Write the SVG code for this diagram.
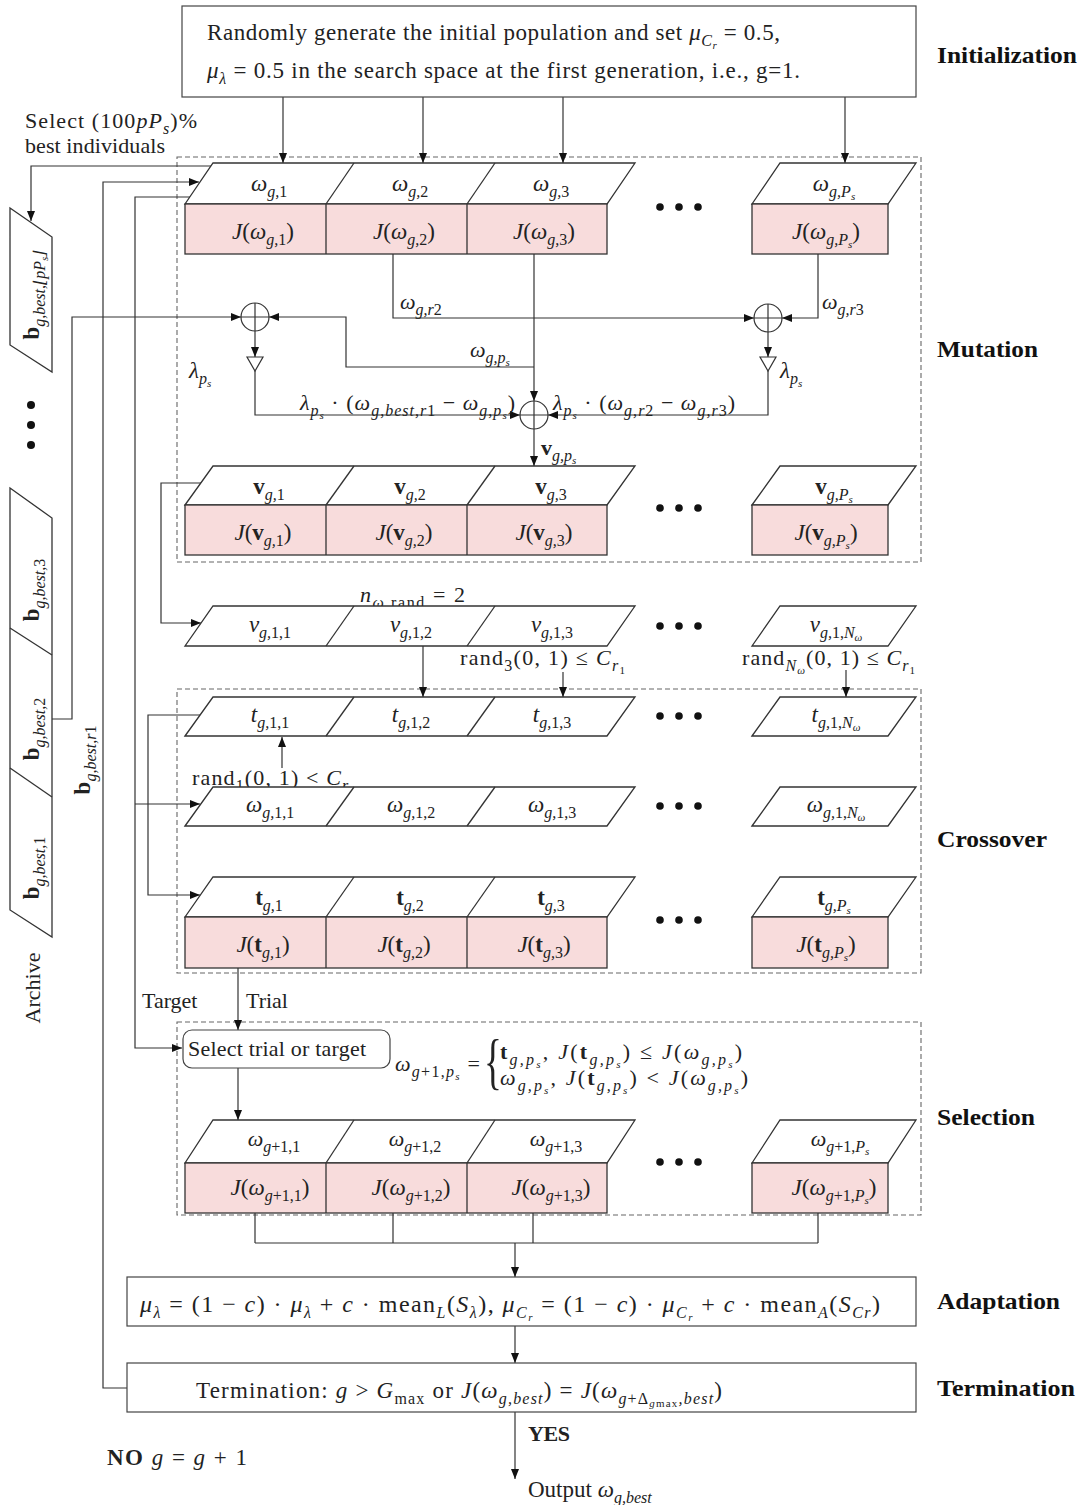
<svg xmlns="http://www.w3.org/2000/svg" width="1083" height="1505" viewBox="0 0 1083 1505">
<defs>
<marker id="ah" viewBox="0 0 10 8" refX="10" refY="4" markerWidth="11" markerHeight="8" markerUnits="userSpaceOnUse" orient="auto"><path d="M0,0 L10,4 L0,8 z" fill="#111"/></marker>
</defs>
<style>
.ln{fill:none;stroke:#333;stroke-width:1.2}
.cl{fill:none;stroke:#333;stroke-width:1.3}
.pk{fill:#f8dcdc;stroke:#333;stroke-width:1.3}
.pg{fill:#fff;stroke:#333;stroke-width:1.3}
.dsh{fill:none;stroke:#666;stroke-width:1.1;stroke-dasharray:5 3}
.bx{fill:#fff;stroke:#444;stroke-width:1.2}
.m{font-family:"Liberation Serif","DejaVu Serif",serif;font-size:23px;fill:#222}
.sm{font-size:22px}
.lg{font-size:24px}
.br{font-size:62px}
.i{font-style:italic}
.s{font-size:16px;font-style:italic}
.ss{font-size:11px;font-style:italic}
.n{font-style:normal}
.bd{font-weight:bold;font-style:normal}
.lab{font-family:"Liberation Serif",serif;font-size:24px;font-weight:bold;fill:#111}
.dot{fill:#111}
.op{fill:#fff;stroke:#333;stroke-width:1.2}
</style>
<rect width="1083" height="1505" fill="#fff"/>

<!-- dashed section boxes -->
<rect class="dsh" x="177" y="157" width="744" height="405"/>
<rect class="dsh" x="177" y="689" width="744" height="284"/>
<rect class="dsh" x="177" y="1022" width="744" height="193"/>

<!-- section labels -->
<text class="lab" x="937" y="63" textLength="140" lengthAdjust="spacingAndGlyphs">Initialization</text>
<text class="lab" x="937" y="357" textLength="101" lengthAdjust="spacingAndGlyphs">Mutation</text>
<text class="lab" x="937" y="847" textLength="110" lengthAdjust="spacingAndGlyphs">Crossover</text>
<text class="lab" x="937" y="1125" textLength="98" lengthAdjust="spacingAndGlyphs">Selection</text>
<text class="lab" x="937" y="1309" textLength="123" lengthAdjust="spacingAndGlyphs">Adaptation</text>
<text class="lab" x="937" y="1396" textLength="138" lengthAdjust="spacingAndGlyphs">Termination</text>

<g id="connectors">
<path class="ln" d="M283,97 V163" marker-end="url(#ah)"/>
<path class="ln" d="M423,97 V163" marker-end="url(#ah)"/>
<path class="ln" d="M563,97 V163" marker-end="url(#ah)"/>
<path class="ln" d="M845,97 V163" marker-end="url(#ah)"/>
<path class="ln" d="M211,166 H31 V221" marker-end="url(#ah)"/>
<path class="ln" d="M127,1388 H103 V182 H199" marker-end="url(#ah)"/>
<path class="ln" d="M190,197 H135 V1048 H182" marker-end="url(#ah)"/>
<path class="ln" d="M135,804 H200" marker-end="url(#ah)"/>
<path class="ln" d="M393,254 V318 H754" marker-end="url(#ah)"/>
<path class="ln" d="M818,254 V318 H782" marker-end="url(#ah)"/>
<path class="ln" d="M534,254 V401" marker-end="url(#ah)"/>
<path class="ln" d="M534,367 H346 V317 H269" marker-end="url(#ah)"/>
<path class="ln" d="M52,719 H72 V317 H241" marker-end="url(#ah)"/>
<path class="ln" d="M255,331 V357" marker-end="url(#ah)"/>
<path class="ln" d="M255,371 V415 H520" marker-end="url(#ah)"/>
<path class="ln" d="M768,332 V357" marker-end="url(#ah)"/>
<path class="ln" d="M768,371 V415 H548" marker-end="url(#ah)"/>
<path class="ln" d="M534,429 V466" marker-end="url(#ah)"/>
<path class="ln" d="M201,483 H161 V623 H201" marker-end="url(#ah)"/>
<path class="ln" d="M423,646 V697" marker-end="url(#ah)"/>
<path class="ln" d="M563,672 V697" marker-end="url(#ah)"/>
<path class="ln" d="M846,670 V697" marker-end="url(#ah)"/>
<path class="ln" d="M282,768 V737" marker-end="url(#ah)"/>
<path class="ln" d="M200,715 H148 V895 H200" marker-end="url(#ah)"/>
<path class="ln" d="M238,968 V1030" marker-end="url(#ah)"/>
<path class="ln" d="M238,1068 V1120" marker-end="url(#ah)"/>
<path class="ln" d="M255,1213 V1243 M393,1213 V1243 M533,1213 V1243 M818,1213 V1243 M255,1243 H818"/>
<path class="ln" d="M515,1243 V1277" marker-end="url(#ah)"/>
<path class="ln" d="M515,1326 V1363" marker-end="url(#ah)"/>
<path class="ln" d="M515,1412 V1479" marker-end="url(#ah)"/>
</g>

<!-- operators -->
<g id="sum-left"><circle class="op" cx="255" cy="317" r="14"/><path class="ln" d="M241,317 H269 M255,303 V331"/></g>
<g id="sum-right"><circle class="op" cx="768" cy="318" r="14"/><path class="ln" d="M754,318 H782 M768,304 V332"/></g>
<g id="sum-bottom"><circle class="op" cx="534" cy="415" r="14"/><path class="ln" d="M520,415 H548 M534,401 V429"/></g>
<g id="gain-left"><polygon class="op" points="247,357 263,357 255,371"/></g>
<g id="gain-right"><polygon class="op" points="760,357 776,357 768,371"/></g>

<!-- Initialization -->
<g id="init">
<rect class="bx" x="182" y="6" width="734" height="91"/>
<text class="m" x="207" y="40" textLength="573" lengthAdjust="spacing">Randomly generate the initial population and set <tspan class="i">μ</tspan><tspan class="s" dy="6">C<tspan class="ss" dy="3">r</tspan></tspan><tspan dy="-9"> = 0.5,</tspan></text>
<text class="m" x="207" y="78" textLength="593" lengthAdjust="spacing"><tspan class="i">μ</tspan><tspan class="s" dy="6">λ</tspan><tspan dy="-6"> = 0.5 in the search space at the first generation, i.e., g=1.</tspan></text>
</g>

<text class="m sm" x="25" y="128" textLength="172" lengthAdjust="spacing">Select  (100<tspan class="i">pP</tspan><tspan class="s" dy="6">s</tspan><tspan dy="-6">)%</tspan></text>
<text class="m sm" x="25" y="153" textLength="140" lengthAdjust="spacing">best individuals</text>

<!-- population row g -->
<g id="pop-g">
<polygon class="pg" points="185,204 213,163 635,163 607,204"/>
<line class="cl" x1="326" y1="204" x2="354" y2="163"/>
<line class="cl" x1="467" y1="204" x2="495" y2="163"/>
<rect class="pk" x="185" y="204" width="422" height="50"/>
<line class="cl" x1="326" y1="204" x2="326" y2="254"/>
<line class="cl" x1="467" y1="204" x2="467" y2="254"/>
<polygon class="pg" points="752,204 780,163 916,163 888,204"/>
<rect class="pk" x="752" y="204" width="136" height="50"/>
<circle class="dot" cx="660" cy="207" r="3.8"/><circle class="dot" cx="679" cy="207" r="3.8"/><circle class="dot" cx="698" cy="207" r="3.8"/>
<text class="m" x="269" y="191" text-anchor="middle"><tspan class="i">ω</tspan><tspan class="s" dy="6">g,<tspan class="n">1</tspan></tspan></text>
<text class="m" x="410" y="191" text-anchor="middle"><tspan class="i">ω</tspan><tspan class="s" dy="6">g,<tspan class="n">2</tspan></tspan></text>
<text class="m" x="551" y="191" text-anchor="middle"><tspan class="i">ω</tspan><tspan class="s" dy="6">g,<tspan class="n">3</tspan></tspan></text>
<text class="m" x="834" y="191" text-anchor="middle"><tspan class="i">ω</tspan><tspan class="s" dy="6">g,P<tspan class="ss" dy="3">s</tspan></tspan></text>
<text class="m" x="263" y="239" text-anchor="middle"><tspan class="i">J</tspan>(<tspan class="i">ω</tspan><tspan class="s" dy="6">g,<tspan class="n">1</tspan></tspan><tspan dy="-6">)</tspan></text>
<text class="m" x="404" y="239" text-anchor="middle"><tspan class="i">J</tspan>(<tspan class="i">ω</tspan><tspan class="s" dy="6">g,<tspan class="n">2</tspan></tspan><tspan dy="-6">)</tspan></text>
<text class="m" x="544" y="239" text-anchor="middle"><tspan class="i">J</tspan>(<tspan class="i">ω</tspan><tspan class="s" dy="6">g,<tspan class="n">3</tspan></tspan><tspan dy="-6">)</tspan></text>
<text class="m" x="826" y="239" text-anchor="middle"><tspan class="i">J</tspan>(<tspan class="i">ω</tspan><tspan class="s" dy="6">g,P<tspan class="ss" dy="3">s</tspan></tspan><tspan dy="-9">)</tspan></text>
</g>

<!-- mutation labels -->
<text class="m sm" x="400" y="309"><tspan class="i">ω</tspan><tspan class="s" dy="6">g,r<tspan class="n">2</tspan></tspan></text>
<text class="m sm" x="822" y="309"><tspan class="i">ω</tspan><tspan class="s" dy="6">g,r<tspan class="n">3</tspan></tspan></text>
<text class="m sm" x="470" y="357"><tspan class="i">ω</tspan><tspan class="s" dy="6">g,p<tspan class="ss" dy="3">s</tspan></tspan></text>
<text class="m" x="189" y="378"><tspan class="i">λ</tspan><tspan class="s" dy="6">p<tspan class="ss" dy="3">s</tspan></tspan></text>
<text class="m" x="780" y="378"><tspan class="i">λ</tspan><tspan class="s" dy="6">p<tspan class="ss" dy="3">s</tspan></tspan></text>
<text class="m sm" x="300" y="410" textLength="215" lengthAdjust="spacing"><tspan class="i">λ</tspan><tspan class="s" dy="6">p<tspan class="ss" dy="3">s</tspan></tspan><tspan dy="-9"> · (</tspan><tspan class="i">ω</tspan><tspan class="s" dy="6">g,best,r<tspan class="n">1</tspan></tspan><tspan dy="-6"> − </tspan><tspan class="i">ω</tspan><tspan class="s" dy="6">g,p<tspan class="ss" dy="3">s</tspan></tspan><tspan dy="-9">)</tspan></text>
<text class="m sm" x="553" y="410" textLength="182" lengthAdjust="spacing"><tspan class="i">λ</tspan><tspan class="s" dy="6">p<tspan class="ss" dy="3">s</tspan></tspan><tspan dy="-9"> · (</tspan><tspan class="i">ω</tspan><tspan class="s" dy="6">g,r<tspan class="n">2</tspan></tspan><tspan dy="-6"> − </tspan><tspan class="i">ω</tspan><tspan class="s" dy="6">g,r<tspan class="n">3</tspan></tspan><tspan dy="-6">)</tspan></text>
<text class="m sm" x="541" y="455"><tspan class="bd">v</tspan><tspan class="s" dy="6">g,p<tspan class="ss" dy="3">s</tspan></tspan></text>

<!-- mutant row v -->
<g id="pop-v">
<polygon class="pg" points="185,505 213,466 635,466 607,505"/>
<line class="cl" x1="326" y1="505" x2="354" y2="466"/>
<line class="cl" x1="467" y1="505" x2="495" y2="466"/>
<rect class="pk" x="185" y="505" width="422" height="50"/>
<line class="cl" x1="326" y1="505" x2="326" y2="555"/>
<line class="cl" x1="467" y1="505" x2="467" y2="555"/>
<polygon class="pg" points="752,505 780,466 916,466 888,505"/>
<rect class="pk" x="752" y="505" width="136" height="50"/>
<circle class="dot" cx="660" cy="508" r="3.8"/><circle class="dot" cx="679" cy="508" r="3.8"/><circle class="dot" cx="698" cy="508" r="3.8"/>
<text class="m" x="269" y="494" text-anchor="middle"><tspan class="bd">v</tspan><tspan class="s" dy="6">g,<tspan class="n">1</tspan></tspan></text>
<text class="m" x="410" y="494" text-anchor="middle"><tspan class="bd">v</tspan><tspan class="s" dy="6">g,<tspan class="n">2</tspan></tspan></text>
<text class="m" x="551" y="494" text-anchor="middle"><tspan class="bd">v</tspan><tspan class="s" dy="6">g,<tspan class="n">3</tspan></tspan></text>
<text class="m" x="834" y="494" text-anchor="middle"><tspan class="bd">v</tspan><tspan class="s" dy="6">g,P<tspan class="ss" dy="3">s</tspan></tspan></text>
<text class="m" x="263" y="540" text-anchor="middle"><tspan class="i">J</tspan>(<tspan class="bd">v</tspan><tspan class="s" dy="6">g,<tspan class="n">1</tspan></tspan><tspan dy="-6">)</tspan></text>
<text class="m" x="404" y="540" text-anchor="middle"><tspan class="i">J</tspan>(<tspan class="bd">v</tspan><tspan class="s" dy="6">g,<tspan class="n">2</tspan></tspan><tspan dy="-6">)</tspan></text>
<text class="m" x="544" y="540" text-anchor="middle"><tspan class="i">J</tspan>(<tspan class="bd">v</tspan><tspan class="s" dy="6">g,<tspan class="n">3</tspan></tspan><tspan dy="-6">)</tspan></text>
<text class="m" x="826" y="540" text-anchor="middle"><tspan class="i">J</tspan>(<tspan class="bd">v</tspan><tspan class="s" dy="6">g,P<tspan class="ss" dy="3">s</tspan></tspan><tspan dy="-9">)</tspan></text>
</g>

<text class="m sm" x="360" y="602" textLength="105" lengthAdjust="spacing"><tspan class="i">n</tspan><tspan class="s" dy="6">ω,<tspan class="n">rand</tspan></tspan><tspan dy="-6"> = 2</tspan></text>

<!-- element row v_{g,1} -->
<g id="elem-v">
<polygon class="pg" points="185,646 213,606 635,606 607,646"/>
<line class="cl" x1="326" y1="646" x2="354" y2="606"/>
<line class="cl" x1="467" y1="646" x2="495" y2="606"/>
<polygon class="pg" points="752,646 780,606 916,606 888,646"/>
<circle class="dot" cx="660" cy="626" r="3.8"/><circle class="dot" cx="679" cy="626" r="3.8"/><circle class="dot" cx="698" cy="626" r="3.8"/>
<text class="m" x="270" y="632" text-anchor="middle"><tspan class="i">v</tspan><tspan class="s" dy="6">g,<tspan class="n">1,1</tspan></tspan></text>
<text class="m" x="411" y="632" text-anchor="middle"><tspan class="i">v</tspan><tspan class="s" dy="6">g,<tspan class="n">1,2</tspan></tspan></text>
<text class="m" x="552" y="632" text-anchor="middle"><tspan class="i">v</tspan><tspan class="s" dy="6">g,<tspan class="n">1,3</tspan></tspan></text>
<text class="m" x="836" y="632" text-anchor="middle"><tspan class="i">v</tspan><tspan class="s" dy="6">g,<tspan class="n">1,</tspan>N<tspan class="ss" dy="3">ω</tspan></tspan></text>
</g>

<text class="m sm" x="460" y="665" textLength="165" lengthAdjust="spacing">rand<tspan class="s n" dy="6">3</tspan><tspan dy="-6">(0, 1) ≤ </tspan><tspan class="i">C</tspan><tspan class="s" dy="6">r<tspan class="ss n" dy="3">1</tspan></tspan></text>
<text class="m sm" x="742" y="665" textLength="173" lengthAdjust="spacing">rand<tspan class="s" dy="6">N<tspan class="ss" dy="3">ω</tspan></tspan><tspan dy="-9">(0, 1) ≤ </tspan><tspan class="i">C</tspan><tspan class="s" dy="6">r<tspan class="ss n" dy="3">1</tspan></tspan></text>

<!-- trial element row t_{g,1} -->
<g id="elem-t">
<polygon class="pg" points="185,736 213,697 635,697 607,736"/>
<line class="cl" x1="326" y1="736" x2="354" y2="697"/>
<line class="cl" x1="467" y1="736" x2="495" y2="697"/>
<polygon class="pg" points="752,736 780,697 916,697 888,736"/>
<circle class="dot" cx="660" cy="716" r="3.8"/><circle class="dot" cx="679" cy="716" r="3.8"/><circle class="dot" cx="698" cy="716" r="3.8"/>
<text class="m" x="270" y="722" text-anchor="middle"><tspan class="i">t</tspan><tspan class="s" dy="6">g,<tspan class="n">1,1</tspan></tspan></text>
<text class="m" x="411" y="722" text-anchor="middle"><tspan class="i">t</tspan><tspan class="s" dy="6">g,<tspan class="n">1,2</tspan></tspan></text>
<text class="m" x="552" y="722" text-anchor="middle"><tspan class="i">t</tspan><tspan class="s" dy="6">g,<tspan class="n">1,3</tspan></tspan></text>
<text class="m" x="836" y="722" text-anchor="middle"><tspan class="i">t</tspan><tspan class="s" dy="6">g,<tspan class="n">1,</tspan>N<tspan class="ss" dy="3">ω</tspan></tspan></text>
</g>

<text class="m sm" x="192" y="785" textLength="163" lengthAdjust="spacing">rand<tspan class="s n" dy="6">1</tspan><tspan dy="-6">(0, 1) &lt; </tspan><tspan class="i">C</tspan><tspan class="s" dy="6">r<tspan class="ss n" dy="3">1</tspan></tspan></text>

<!-- target element row w_{g,1} -->
<g id="elem-w">
<polygon class="pg" points="185,826 213,787 635,787 607,826"/>
<line class="cl" x1="326" y1="826" x2="354" y2="787"/>
<line class="cl" x1="467" y1="826" x2="495" y2="787"/>
<polygon class="pg" points="752,826 780,787 916,787 888,826"/>
<circle class="dot" cx="660" cy="806" r="3.8"/><circle class="dot" cx="679" cy="806" r="3.8"/><circle class="dot" cx="698" cy="806" r="3.8"/>
<text class="m" x="270" y="812" text-anchor="middle"><tspan class="i">ω</tspan><tspan class="s" dy="6">g,<tspan class="n">1,1</tspan></tspan></text>
<text class="m" x="411" y="812" text-anchor="middle"><tspan class="i">ω</tspan><tspan class="s" dy="6">g,<tspan class="n">1,2</tspan></tspan></text>
<text class="m" x="552" y="812" text-anchor="middle"><tspan class="i">ω</tspan><tspan class="s" dy="6">g,<tspan class="n">1,3</tspan></tspan></text>
<text class="m" x="836" y="812" text-anchor="middle"><tspan class="i">ω</tspan><tspan class="s" dy="6">g,<tspan class="n">1,</tspan>N<tspan class="ss" dy="3">ω</tspan></tspan></text>
</g>

<!-- trial row t -->
<g id="pop-t">
<polygon class="pg" points="185,917 213,877 635,877 607,917"/>
<line class="cl" x1="326" y1="917" x2="354" y2="877"/>
<line class="cl" x1="467" y1="917" x2="495" y2="877"/>
<rect class="pk" x="185" y="917" width="422" height="51"/>
<line class="cl" x1="326" y1="917" x2="326" y2="968"/>
<line class="cl" x1="467" y1="917" x2="467" y2="968"/>
<polygon class="pg" points="752,917 780,877 916,877 888,917"/>
<rect class="pk" x="752" y="917" width="136" height="51"/>
<circle class="dot" cx="660" cy="920" r="3.8"/><circle class="dot" cx="679" cy="920" r="3.8"/><circle class="dot" cx="698" cy="920" r="3.8"/>
<text class="m" x="269" y="905" text-anchor="middle"><tspan class="bd">t</tspan><tspan class="s" dy="6">g,<tspan class="n">1</tspan></tspan></text>
<text class="m" x="410" y="905" text-anchor="middle"><tspan class="bd">t</tspan><tspan class="s" dy="6">g,<tspan class="n">2</tspan></tspan></text>
<text class="m" x="551" y="905" text-anchor="middle"><tspan class="bd">t</tspan><tspan class="s" dy="6">g,<tspan class="n">3</tspan></tspan></text>
<text class="m" x="834" y="905" text-anchor="middle"><tspan class="bd">t</tspan><tspan class="s" dy="6">g,P<tspan class="ss" dy="3">s</tspan></tspan></text>
<text class="m" x="263" y="952" text-anchor="middle"><tspan class="i">J</tspan>(<tspan class="bd">t</tspan><tspan class="s" dy="6">g,<tspan class="n">1</tspan></tspan><tspan dy="-6">)</tspan></text>
<text class="m" x="404" y="952" text-anchor="middle"><tspan class="i">J</tspan>(<tspan class="bd">t</tspan><tspan class="s" dy="6">g,<tspan class="n">2</tspan></tspan><tspan dy="-6">)</tspan></text>
<text class="m" x="544" y="952" text-anchor="middle"><tspan class="i">J</tspan>(<tspan class="bd">t</tspan><tspan class="s" dy="6">g,<tspan class="n">3</tspan></tspan><tspan dy="-6">)</tspan></text>
<text class="m" x="826" y="952" text-anchor="middle"><tspan class="i">J</tspan>(<tspan class="bd">t</tspan><tspan class="s" dy="6">g,P<tspan class="ss" dy="3">s</tspan></tspan><tspan dy="-9">)</tspan></text>
</g>

<text class="m sm" x="142" y="1008">Target</text>
<text class="m sm" x="246" y="1008">Trial</text>

<!-- selection -->
<g id="select">
<rect class="bx" x="183" y="1030" width="207" height="38" rx="9"/>
<text class="m sm" x="188" y="1056" textLength="178" lengthAdjust="spacing">Select trial or target</text>
</g>
<text class="m sm" x="395" y="1071" textLength="85" lengthAdjust="spacing"><tspan class="i">ω</tspan><tspan class="s" dy="6">g<tspan class="n">+1,</tspan>p<tspan class="ss" dy="3">s</tspan></tspan><tspan dy="-9"> = </tspan></text>
<text class="m br" x="0" y="0" transform="translate(484,1082) scale(0.6,1)">{</text>
<text class="m sm" x="500" y="1059" textLength="242" lengthAdjust="spacing"><tspan class="bd">t</tspan><tspan class="s" dy="6">g,p<tspan class="ss" dy="3">s</tspan></tspan><tspan dy="-9">, </tspan><tspan class="i">J</tspan>(<tspan class="bd">t</tspan><tspan class="s" dy="6">g,p<tspan class="ss" dy="3">s</tspan></tspan><tspan dy="-9">) ≤ </tspan><tspan class="i">J</tspan>(<tspan class="i">ω</tspan><tspan class="s" dy="6">g,p<tspan class="ss" dy="3">s</tspan></tspan><tspan dy="-9">)</tspan></text>
<text class="m sm" x="500" y="1085" textLength="248" lengthAdjust="spacing"><tspan class="i">ω</tspan><tspan class="s" dy="6">g,p<tspan class="ss" dy="3">s</tspan></tspan><tspan dy="-9">, </tspan><tspan class="i">J</tspan>(<tspan class="bd">t</tspan><tspan class="s" dy="6">g,p<tspan class="ss" dy="3">s</tspan></tspan><tspan dy="-9">) &lt; </tspan><tspan class="i">J</tspan>(<tspan class="i">ω</tspan><tspan class="s" dy="6">g,p<tspan class="ss" dy="3">s</tspan></tspan><tspan dy="-9">)</tspan></text>

<!-- next generation row -->
<g id="pop-g1">
<polygon class="pg" points="185,1163 213,1120 635,1120 607,1163"/>
<line class="cl" x1="326" y1="1163" x2="354" y2="1120"/>
<line class="cl" x1="467" y1="1163" x2="495" y2="1120"/>
<rect class="pk" x="185" y="1163" width="422" height="50"/>
<line class="cl" x1="326" y1="1163" x2="326" y2="1213"/>
<line class="cl" x1="467" y1="1163" x2="467" y2="1213"/>
<polygon class="pg" points="752,1163 780,1120 916,1120 888,1163"/>
<rect class="pk" x="752" y="1163" width="136" height="50"/>
<circle class="dot" cx="660" cy="1162" r="3.8"/><circle class="dot" cx="679" cy="1162" r="3.8"/><circle class="dot" cx="698" cy="1162" r="3.8"/>
<text class="m sm" x="274" y="1146" text-anchor="middle"><tspan class="i">ω</tspan><tspan class="s" dy="6">g<tspan class="n">+1,1</tspan></tspan></text>
<text class="m sm" x="415" y="1146" text-anchor="middle"><tspan class="i">ω</tspan><tspan class="s" dy="6">g<tspan class="n">+1,2</tspan></tspan></text>
<text class="m sm" x="556" y="1146" text-anchor="middle"><tspan class="i">ω</tspan><tspan class="s" dy="6">g<tspan class="n">+1,3</tspan></tspan></text>
<text class="m sm" x="840" y="1146" text-anchor="middle"><tspan class="i">ω</tspan><tspan class="s" dy="6">g<tspan class="n">+1,</tspan>P<tspan class="ss" dy="3">s</tspan></tspan></text>
<text class="m" x="270" y="1195" text-anchor="middle"><tspan class="i">J</tspan>(<tspan class="i">ω</tspan><tspan class="s" dy="6">g<tspan class="n">+1,1</tspan></tspan><tspan dy="-6">)</tspan></text>
<text class="m" x="411" y="1195" text-anchor="middle"><tspan class="i">J</tspan>(<tspan class="i">ω</tspan><tspan class="s" dy="6">g<tspan class="n">+1,2</tspan></tspan><tspan dy="-6">)</tspan></text>
<text class="m" x="551" y="1195" text-anchor="middle"><tspan class="i">J</tspan>(<tspan class="i">ω</tspan><tspan class="s" dy="6">g<tspan class="n">+1,3</tspan></tspan><tspan dy="-6">)</tspan></text>
<text class="m" x="834" y="1195" text-anchor="middle"><tspan class="i">J</tspan>(<tspan class="i">ω</tspan><tspan class="s" dy="6">g<tspan class="n">+1,</tspan>P<tspan class="ss" dy="3">s</tspan></tspan><tspan dy="-9">)</tspan></text>
</g>

<!-- adaptation -->
<g id="adapt">
<rect class="bx" x="127" y="1277" width="789" height="49"/>
<text class="m lg" x="140" y="1312" textLength="740" lengthAdjust="spacing"><tspan class="i">μ</tspan><tspan class="s" dy="6">λ</tspan><tspan dy="-6"> = (1 − </tspan><tspan class="i">c</tspan>) · <tspan class="i">μ</tspan><tspan class="s" dy="6">λ</tspan><tspan dy="-6"> + </tspan><tspan class="i">c</tspan> · mean<tspan class="s" dy="6">L</tspan><tspan dy="-6">(</tspan><tspan class="i">S</tspan><tspan class="s" dy="6">λ</tspan><tspan dy="-6">), </tspan><tspan class="i">μ</tspan><tspan class="s" dy="6">C<tspan class="ss" dy="3">r</tspan></tspan><tspan dy="-9"> = (1 − </tspan><tspan class="i">c</tspan>) · <tspan class="i">μ</tspan><tspan class="s" dy="6">C<tspan class="ss" dy="3">r</tspan></tspan><tspan dy="-9"> + </tspan><tspan class="i">c</tspan> · mean<tspan class="s" dy="6">A</tspan><tspan dy="-6">(</tspan><tspan class="i">S</tspan><tspan class="s" dy="6">Cr</tspan><tspan dy="-6">)</tspan></text>
</g>

<!-- termination -->
<g id="term">
<rect class="bx" x="127" y="1363" width="789" height="49"/>
<text class="m" x="196" y="1398" textLength="526" lengthAdjust="spacing">Termination: <tspan class="i">g</tspan> &gt; <tspan class="i">G</tspan><tspan class="s n" dy="6">max</tspan><tspan dy="-6"> or </tspan><tspan class="i">J</tspan>(<tspan class="i">ω</tspan><tspan class="s" dy="6">g,best</tspan><tspan dy="-6">) = </tspan><tspan class="i">J</tspan>(<tspan class="i">ω</tspan><tspan class="s" dy="6">g<tspan class="n">+Δ</tspan><tspan class="ss" dy="3">g<tspan class="n">max</tspan></tspan><tspan dy="-3">,best</tspan></tspan><tspan dy="-6">)</tspan></text>
</g>

<text class="m sm" x="528" y="1441" font-weight="bold" textLength="42" lengthAdjust="spacing">YES</text>
<text class="m" x="107" y="1465" textLength="140" lengthAdjust="spacing"><tspan font-weight="bold">NO</tspan>  <tspan class="i">g</tspan> = <tspan class="i">g</tspan> + 1</text>
<text class="m" x="528" y="1497">Output <tspan class="i">ω</tspan><tspan class="s" dy="6">g,best</tspan></text>

<!-- archive -->
<g id="archive">
<polygon class="pg" points="10,208 52,237 52,372 10,345"/>
<polygon class="pg" points="10,488 52,518 52,937 10,910"/>
<line class="cl" x1="10" y1="628" x2="52" y2="655"/>
<line class="cl" x1="10" y1="768" x2="52" y2="797"/>
<circle class="dot" cx="31" cy="405" r="4"/><circle class="dot" cx="31" cy="425" r="4"/><circle class="dot" cx="31" cy="445" r="4"/>
<text class="m" transform="translate(39,295) rotate(-90)" text-anchor="middle"><tspan class="bd">b</tspan><tspan class="s" dy="6">g,best,⌊pP<tspan class="ss" dy="3">s</tspan><tspan dy="-3">⌋</tspan></tspan></text>
<text class="m" transform="translate(39,590) rotate(-90)" text-anchor="middle"><tspan class="bd">b</tspan><tspan class="s" dy="6">g,best,<tspan class="n">3</tspan></tspan></text>
<text class="m" transform="translate(39,729) rotate(-90)" text-anchor="middle"><tspan class="bd">b</tspan><tspan class="s" dy="6">g,best,<tspan class="n">2</tspan></tspan></text>
<text class="m" transform="translate(39,868) rotate(-90)" text-anchor="middle"><tspan class="bd">b</tspan><tspan class="s" dy="6">g,best,<tspan class="n">1</tspan></tspan></text>
<text class="m sm" transform="translate(40,988) rotate(-90)" text-anchor="middle">Archive</text>
</g>
<text class="m" transform="translate(90,760) rotate(-90)" text-anchor="middle"><tspan class="bd">b</tspan><tspan class="s" dy="6">g,best,r<tspan class="n">1</tspan></tspan></text>
</svg>
